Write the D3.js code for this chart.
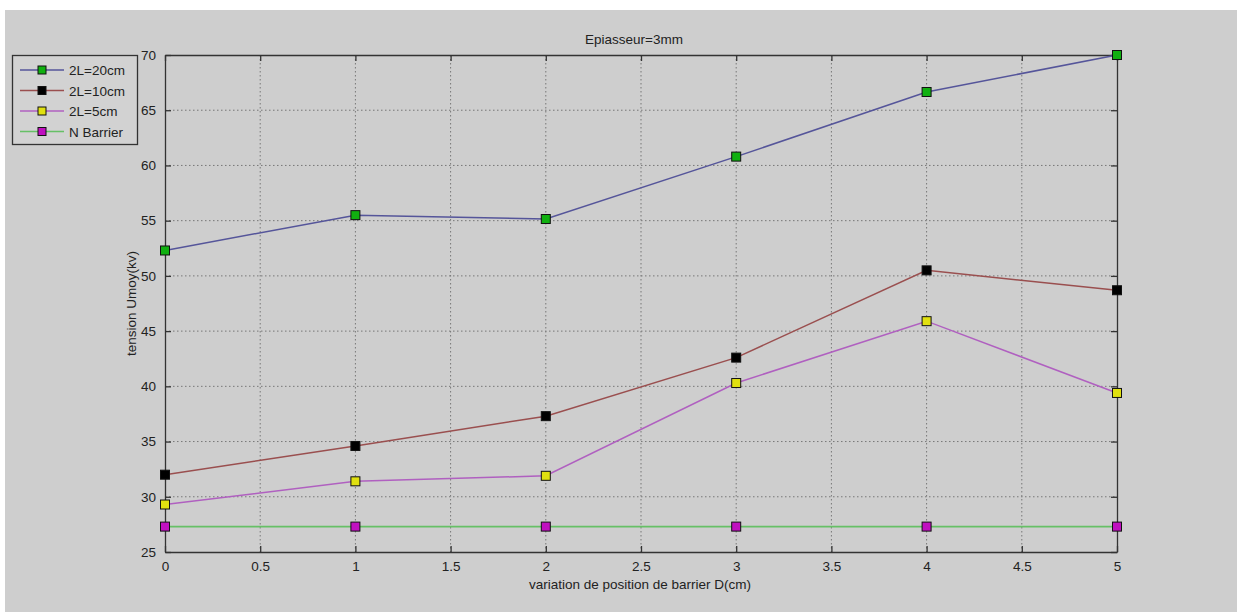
<!DOCTYPE html>
<html>
<head>
<meta charset="utf-8">
<script src="https://cdn.jsdelivr.net/npm/d3@7"></script>
<style>
  body { margin: 0; background: #fff; }
  text { font-family: "Liberation Sans", Arial, sans-serif; }
</style>
</head>
<body>
<div id="chart"></div>
<script>
var xValues = [0, 1, 2, 3, 4, 5];
var s20 = [52.3, 55.5, 55.15, 60.8, 66.65, 70.0];
var s10 = [32.0, 34.6, 37.3, 42.6, 50.5, 48.7];
var s5 = [29.3, 31.4, 31.9, 40.3, 45.9, 39.4];
var sNone = [27.3, 27.3, 27.3, 27.3, 27.3, 27.3];
var seriesNames = ["2L=20cm", "2L=10cm", "2L=5cm", "N Barrier"];
var xTicks = [0, 0.5, 1, 1.5, 2, 2.5, 3, 3.5, 4, 4.5, 5];
var yTicks = [25, 30, 35, 40, 45, 50, 55, 60, 65, 70];

var lineColors = ["#55559a", "#9a4f4f", "#b060c0", "#66c066"];
var markColors = ["#10b010", "#000000", "#e0e010", "#c010c0"];

var width = 1237, height = 612;
var pLeft = 165, pRight = 1117, pTop = 55, pBottom = 552;
var fontSize = "13.5px";

var svg = d3.select("#chart").append("svg")
    .attr("width", width)
    .attr("height", height);

// figure background (white strip at top/left as in the capture)
svg.append("rect").attr("x", 5).attr("y", 10)
    .attr("width", width - 5).attr("height", height - 10)
    .attr("fill", "#cecece");

var x = d3.scaleLinear().domain([0, 5]).range([pLeft, pRight]);
var y = d3.scaleLinear().domain([25, 70]).range([pBottom, pTop]);

var g = svg.append("g");

// grid
g.selectAll(".vg").data(xTicks.slice(1, -1)).enter().append("line")
    .attr("x1", d => x(d)).attr("x2", d => x(d))
    .attr("y1", pTop).attr("y2", pBottom)
    .attr("stroke", "#777").attr("stroke-width", 1)
    .attr("stroke-dasharray", "1.5,2.5");
g.selectAll(".hg").data(yTicks.slice(1, -1)).enter().append("line")
    .attr("x1", pLeft).attr("x2", pRight)
    .attr("y1", d => y(d)).attr("y2", d => y(d))
    .attr("stroke", "#777").attr("stroke-width", 1)
    .attr("stroke-dasharray", "1.5,2.5");

// axes
var xAxis = d3.axisBottom(x).tickValues(xTicks).tickSizeInner(-6).tickSizeOuter(0).tickPadding(9)
    .tickFormat(d3.format("~g"));
var xAxisTop = d3.axisTop(x).tickValues(xTicks).tickSizeInner(-6).tickSizeOuter(0).tickFormat("");
var yAxis = d3.axisLeft(y).tickValues(yTicks).tickSizeInner(-6).tickSizeOuter(0).tickPadding(9);
var yAxisRight = d3.axisRight(y).tickValues(yTicks).tickSizeInner(-6).tickSizeOuter(0).tickFormat("");

function styleAxis(sel) {
  sel.select(".domain").attr("stroke", "#333").attr("stroke-width", 1.3);
  sel.selectAll(".tick line").attr("stroke", "#333").attr("stroke-width", 1.3);
  sel.selectAll("text").attr("fill", "#222").style("font-size", fontSize);
}
svg.append("g").attr("transform", "translate(0," + pBottom + ")").call(xAxis).call(styleAxis);
svg.append("g").attr("transform", "translate(0," + pTop + ")").call(xAxisTop).call(styleAxis);
svg.append("g").attr("transform", "translate(" + pLeft + ",0)").call(yAxis).call(styleAxis);
svg.append("g").attr("transform", "translate(" + pRight + ",0)").call(yAxisRight).call(styleAxis);

// series
var allSeries = [s20, s10, s5, sNone];
var line = d3.line().x((d, i) => x(xValues[i])).y(d => y(d));

allSeries.forEach(function (vals, k) {
  svg.append("path").datum(vals)
      .attr("fill", "none")
      .attr("stroke", lineColors[k])
      .attr("stroke-width", k === 3 ? 1.8 : 1.5)
      .attr("d", line);
});
allSeries.forEach(function (vals, k) {
  svg.append("g").selectAll("rect").data(vals).enter().append("rect")
      .attr("x", (d, i) => x(xValues[i]) - 4.5)
      .attr("y", d => y(d) - 4.5)
      .attr("width", 9).attr("height", 9)
      .attr("fill", markColors[k])
      .attr("stroke", "#111").attr("stroke-width", 1);
});

// title and labels
svg.append("text").attr("x", 634).attr("y", 44)
    .attr("text-anchor", "middle").style("font-size", fontSize).attr("fill", "#222")
    .text("Epiasseur=3mm");
svg.append("text").attr("x", 640).attr("y", 589)
    .attr("text-anchor", "middle").style("font-size", fontSize).attr("fill", "#222")
    .text("variation de position de barrier D(cm)");
svg.append("text")
    .attr("transform", "translate(136," + ((pTop + pBottom) / 2) + ") rotate(-90)")
    .attr("text-anchor", "middle").style("font-size", fontSize).attr("fill", "#222")
    .text("tension Umoy(kv)");

// legend
var leg = svg.append("g");
leg.append("rect").attr("x", 12.5).attr("y", 55.5).attr("width", 125).attr("height", 89)
    .attr("fill", "#d2d2d2").attr("stroke", "#333").attr("stroke-width", 1.3);
var rows = leg.selectAll(".row").data(seriesNames).enter().append("g")
    .attr("transform", (d, i) => "translate(0," + (70 + i * 20.5) + ")");
rows.append("line").attr("x1", 20).attr("x2", 64).attr("y1", 0).attr("y2", 0)
    .attr("stroke", (d, i) => lineColors[i]).attr("stroke-width", 1.5);
rows.append("rect").attr("x", 38).attr("y", -4).attr("width", 8).attr("height", 8)
    .attr("fill", (d, i) => markColors[i]).attr("stroke", "#111");
rows.append("text").attr("x", 69).attr("y", 5)
    .style("font-size", fontSize).attr("fill", "#222")
    .text(d => d);
</script>
</body>
</html>
